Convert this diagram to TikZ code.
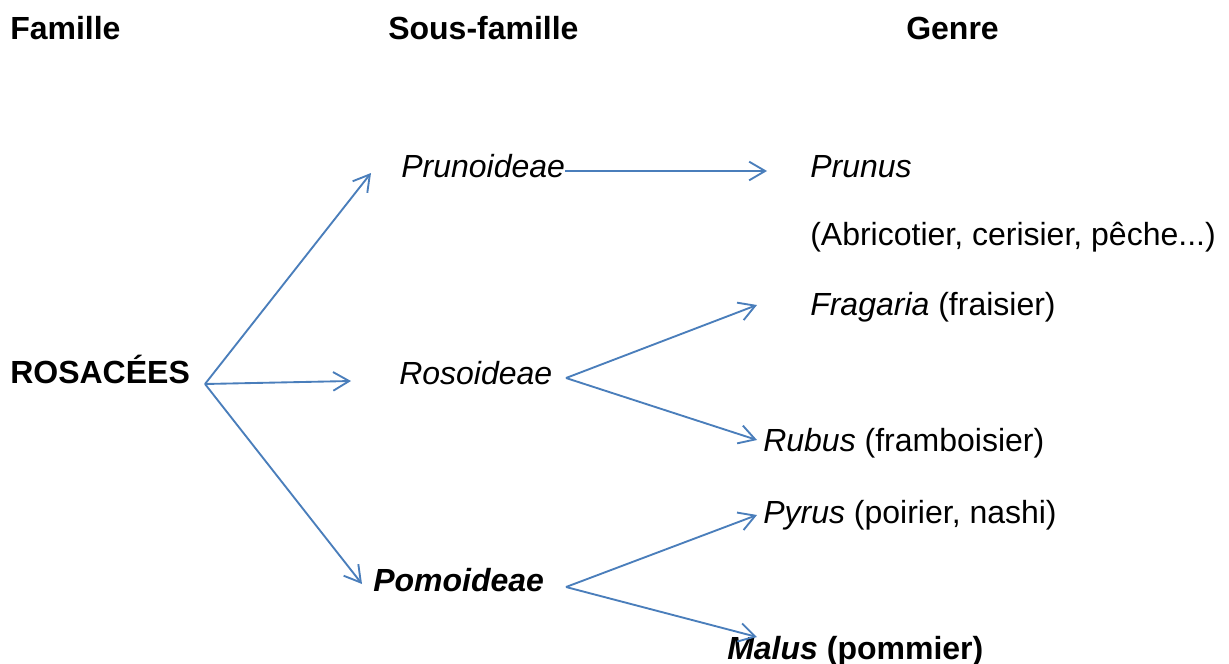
\documentclass[tikz,border=0pt]{standalone}
\usepackage{fontspec}
\setmainfont{Liberation Sans}
\usetikzlibrary{arrows.meta}
\definecolor{arrowblue}{HTML}{4A7EBB}
\begin{document}
\begin{tikzpicture}[x=0.75pt,y=-0.75pt,
  lbl/.style={inner sep=0pt,anchor=base west,font=\fontsize{24pt}{28pt}\selectfont},
  conn/.style={draw=arrowblue,line width=1.4pt,-{Straight Barb[length=12pt,width=14pt,line width=1.4pt]}}]
\useasboundingbox (0,0) rectangle (1229,664);
% headers
\node[lbl] (hfam) at (10,39) {\bfseries Famille};
\node[lbl] (hsous) at (388,39) {\bfseries Sous-famille};
\node[lbl] (hgenre) at (906,39) {\bfseries Genre};
% family
\node[lbl] (ros) at (10,383) {\bfseries ROSACÉES};
% subfamilies
\node[lbl] (prunoid) at (401,177) {\itshape Prunoideae};
\node[lbl] (rosoid) at (399,384) {\itshape Rosoideae};
\node[lbl] (pomoid) at (373,591) {\bfseries\itshape Pomoideae};
% genera
\node[lbl] (prunus) at (810,177) {\itshape Prunus};
\node[lbl] (abric) at (810,245) {(Abricotier, cerisier, pêche...)};
\node[lbl] (fragaria) at (810,315) {\itshape Fragaria\upshape{} (fraisier)};
\node[lbl] (rubus) at (763,451) {\itshape Rubus\upshape{} (framboisier)};
\node[lbl] (pyrus) at (763,523) {\itshape Pyrus\upshape{} (poirier, nashi)};
\node[lbl] (malus) at (727,659) {\bfseries\itshape Malus\upshape{} (pommier)};
% connector end points
\coordinate (rosout) at (205,384);
\coordinate (prunoidin) at (371,173);
\coordinate (rosoidin) at (351,381);
\coordinate (pomoidin) at (362,584);
\coordinate (prunoidout) at (565,171);
\coordinate (prunusin) at (767,171);
\coordinate (rosoidout) at (566,378);
\coordinate (fragariain) at (757,305);
\coordinate (rubusin) at (757,440);
\coordinate (pomoidout) at (566,587);
\coordinate (pyrusin) at (757,515);
\coordinate (malusin) at (757,637);
% connectors
\draw[conn] (rosout) -- (prunoidin);
\draw[conn] (rosout) -- (rosoidin);
\draw[conn] (rosout) -- (pomoidin);
\draw[conn] (prunoidout) -- (prunusin);
\draw[conn] (rosoidout) -- (fragariain);
\draw[conn] (rosoidout) -- (rubusin);
\draw[conn] (pomoidout) -- (pyrusin);
\draw[conn] (pomoidout) -- (malusin);
\end{tikzpicture}
\end{document}
